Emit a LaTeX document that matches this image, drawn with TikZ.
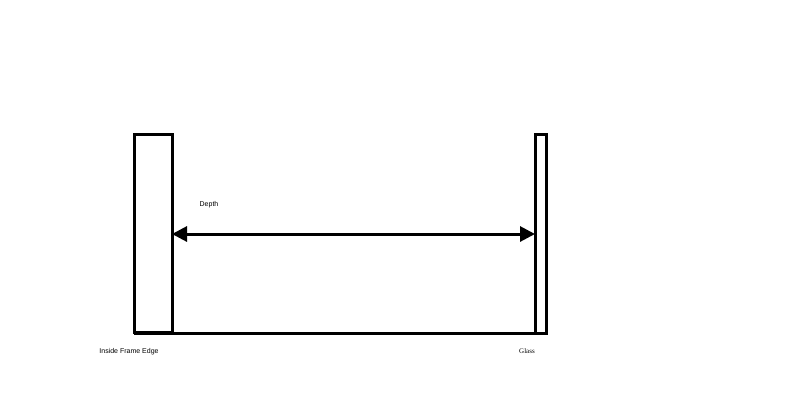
\documentclass[tikz,border=0pt]{standalone}
\usepackage{fontspec}
\setmainfont{Liberation Sans}
\newfontfamily\serifglass{Liberation Serif}
\usetikzlibrary{arrows.meta}
\begin{document}
\begin{tikzpicture}[x=1pt,y=-1pt,
  part/.style={draw=black,line width=3pt,fill=white,outer sep=0pt,inner sep=0pt},
  dim/.style={line width=3pt,{Triangle[length=15pt,width=15pt]}-{Triangle[length=15pt,width=15pt]}},
  lbl/.style={font=\fontsize{7}{8}\selectfont,inner sep=0pt}]
\useasboundingbox (0,0) rectangle (800,400);
\draw[line width=3pt] (134,333) -- (546,333);
\node[part,minimum width=38pt,minimum height=198pt] (frame) at (153,233) {};
\node[part,minimum width=11pt,minimum height=199pt] (glass) at (540.5,233.5) {};
\coordinate (fa) at (frame.east |- 0,234);
\coordinate (ga) at (glass.west |- 0,234);
\draw[dim] (fa) -- (ga);
\node[lbl] (depth) at (209,204.5) {Depth};
\node[lbl] (ifl) at (129,351.5) {Inside Frame Edge};
\node[lbl,font=\fontsize{7}{8}\selectfont\serifglass] (gl) at (527,351.5) {Glass};
\end{tikzpicture}
\end{document}
